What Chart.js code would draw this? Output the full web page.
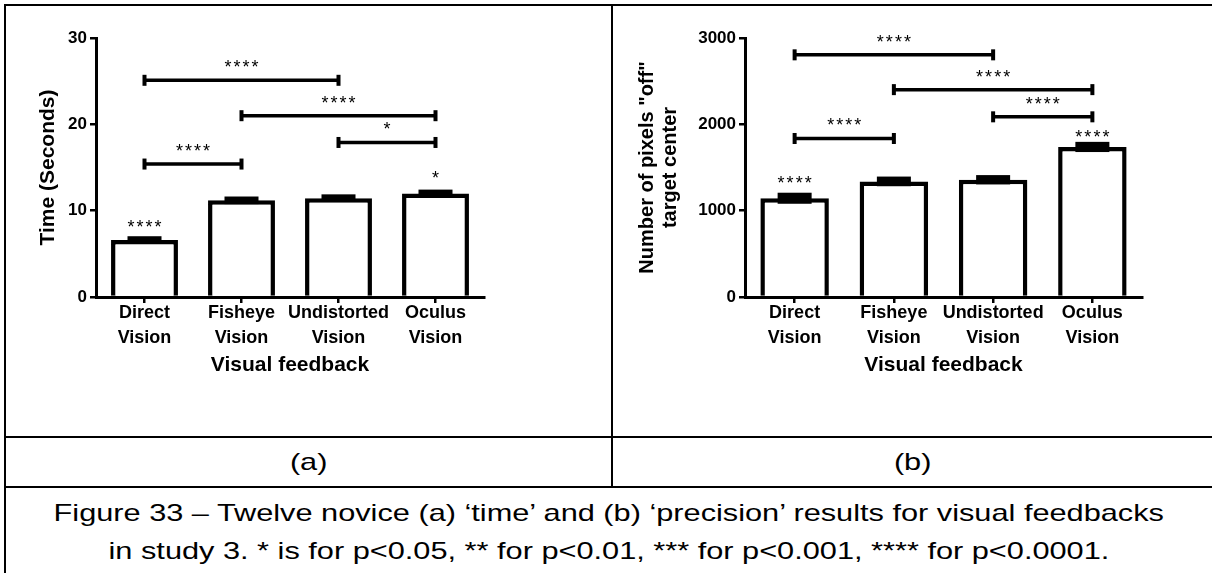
<!DOCTYPE html>
<html>
<head>
<meta charset="utf-8">
<script src="https://cdn.jsdelivr.net/npm/chart.js@4.4.1/dist/chart.umd.min.js"></script>
<style>
  html, body { margin: 0; padding: 0; background: #fff; }
  #page { position: relative; width: 1212px; height: 573px; overflow: hidden; font-family: "Liberation Sans", Arial, sans-serif; color: #000; }
  .rule { position: absolute; background: #000; }
  canvas { position: absolute; }
  .cellLabel { position: absolute; top: 438px; height: 48px; line-height: 48px; text-align: center; font-size: 24px; }
  .caption { position: absolute; left: 6px; width: 1206px; top: 494px; text-align: center; font-size: 24px; line-height: 38px; }
  .stretch { display: inline-block; transform: scaleX(1.28); transform-origin: center; white-space: nowrap; }
</style>
</head>
<body>
<div id="page">
  <div class="rule" style="left:4px;top:4px;width:1208px;height:2px"></div>
  <div class="rule" style="left:4px;top:4px;width:2px;height:569px"></div>
  <div class="rule" style="left:611px;top:4px;width:2px;height:484px"></div>
  <div class="rule" style="left:4px;top:436px;width:1208px;height:2px"></div>
  <div class="rule" style="left:4px;top:486px;width:1208px;height:2px"></div>

  <canvas id="time-chart" width="605" height="430" style="left:6px;top:6px"></canvas>
  <canvas id="pixel-chart" width="599" height="430" style="left:613px;top:6px"></canvas>

  <div class="cellLabel" style="left:6px;width:605px"><span class="stretch">(a)</span></div>
  <div class="cellLabel" style="left:613px;width:599px"><span class="stretch">(b)</span></div>

  <div class="caption">
    <div><span class="stretch">Figure 33 – Twelve novice (a) ‘time’ and (b) ‘precision’ results for visual feedbacks</span></div>
    <div><span class="stretch">in study 3. * is for p&lt;0.05, ** for p&lt;0.01, *** for p&lt;0.001, **** for p&lt;0.0001.</span></div>
  </div>
</div>
<script>
const categories = [['Direct', 'Vision'], ['Fisheye', 'Vision'], ['Undistorted', 'Vision'], ['Oculus', 'Vision']];

// (a) time
const timeMeans = [6.6, 11.2, 11.45, 12.0];
const timeErrors = [0.15, 0.15, 0.15, 0.15];
const timeBarStars = ['****', '', '', '*'];
const timeBarStarY = [7.55, null, null, 13.2];
const timeBracketFrom = [0, 1, 2, 0];
const timeBracketTo = [2, 3, 3, 1];
const timeBracketY = [25.1, 21.0, 17.9, 15.4];
const timeBracketStars = ['****', '****', '*', '****'];

// (b) precision
const pixelMeans = [1144, 1339, 1358, 1738];
const pixelErrors = [35, 27, 25, 30];
const pixelBarStars = ['****', '', '', '****'];
const pixelBarStarY = [1265, null, null, 1796];
const pixelBracketFrom = [0, 1, 2, 0];
const pixelBracketTo = [2, 3, 3, 1];
const pixelBracketY = [2805, 2402, 2087, 1836];
const pixelBracketStars = ['****', '****', '****', '****'];

const family = '"Liberation Sans", Arial, sans-serif';

// error bars, bar stars and comparison brackets
function sigPlugin(errors, barStars, barStarY, from, to, lineY, stars) {
    return {
        id: 'sigMarks',
        afterDatasetsDraw(chart) {
            const ctx = chart.ctx;
            const xs = chart.scales.x;
            const ys = chart.scales.y;
            const meta = chart.getDatasetMeta(0);
            const values = chart.data.datasets[0].data;
            ctx.save();
            ctx.fillStyle = '#000';
            ctx.strokeStyle = '#000';
            meta.data.forEach((bar, i) => {
                const top = ys.getPixelForValue(values[i] + errors[i]);
                const bot = ys.getPixelForValue(values[i] - errors[i]);
                ctx.fillRect(bar.x - 17, top - 2.5, 34, bot - top + 5);
            });
            ctx.font = '18px ' + family;
            ctx.letterSpacing = '2px';
            ctx.textAlign = 'center';
            ctx.textBaseline = 'alphabetic';
            barStars.forEach((s, i) => {
                if (s) ctx.fillText(s, meta.data[i].x + 1, ys.getPixelForValue(barStarY[i]) + 1);
            });
            ctx.lineWidth = 3.5;
            from.forEach((f, k) => {
                const x1 = xs.getPixelForValue(f);
                const x2 = xs.getPixelForValue(to[k]);
                const yp = ys.getPixelForValue(lineY[k]);
                ctx.beginPath();
                ctx.moveTo(x1, yp);
                ctx.lineTo(x2, yp);
                ctx.stroke();
                ctx.fillRect(x1 - 2, yp - 5.5, 4, 11);
                ctx.fillRect(x2 - 2, yp - 5.5, 4, 11);
                ctx.fillText(stars[k], (x1 + x2) / 2 + 1, yp - 7);
            });
            ctx.restore();
        }
    };
}

function drawChart(id, values, yMax, yStep, yTitle, titleSize, titleLineHeight, padding, yWidth, plugin) {
    return new Chart(document.getElementById(id), {
        type: 'bar',
        data: {
            labels: categories,
            datasets: [{
                data: values,
                backgroundColor: '#fff',
                borderColor: '#000',
                borderWidth: 4.5,
                barPercentage: 0.69,
                categoryPercentage: 1
            }]
        },
        options: {
            responsive: false,
            animation: false,
            layout: { padding: padding },
            plugins: { legend: { display: false }, tooltip: { enabled: false } },
            scales: {
                x: {
                    grid: { drawOnChartArea: false, offset: false, color: '#000', lineWidth: 2.5, tickLength: 6 },
                    border: { color: '#000', width: 3 },
                    ticks: { color: '#000', padding: -2, maxRotation: 0, autoSkip: false,
                             font: { family: family, size: 18, weight: 'bold', lineHeight: 1.38 } },
                    title: { display: true, text: 'Visual feedback', color: '#000', padding: 0,
                             font: { family: family, size: 21, weight: 'bold' } },
                    afterFit: s => { s.height = 81; }
                },
                y: {
                    min: 0,
                    max: yMax,
                    grid: { drawOnChartArea: false, color: '#000', lineWidth: 2.5, tickLength: 6 },
                    border: { color: '#000', width: 3 },
                    ticks: { color: '#000', stepSize: yStep, padding: 3, callback: v => String(v),
                             font: { family: family, size: 17, weight: 'bold' } },
                    title: { display: true, text: yTitle, color: '#000', padding: { top: 4, bottom: 4 },
                             font: { family: family, size: titleSize, weight: 'bold', lineHeight: titleLineHeight } },
                    afterFit: s => { s.width = yWidth; }
                }
            }
        },
        plugins: [plugin]
    });
}

drawChart('time-chart', timeMeans, 30, 10, 'Time (Seconds)', 21, 1.15,
    { left: 26, top: 32, right: 127, bottom: 58 }, 64,
    sigPlugin(timeErrors, timeBarStars, timeBarStarY, timeBracketFrom, timeBracketTo, timeBracketY, timeBracketStars));

drawChart('pixel-chart', pixelMeans, 3000, 1000, ['Number of pixels "off"', 'target center'], 20, 1.15,
    { left: 19, top: 32, right: 70, bottom: 58 }, 113,
    sigPlugin(pixelErrors, pixelBarStars, pixelBarStarY, pixelBracketFrom, pixelBracketTo, pixelBracketY, pixelBracketStars));
</script>
</body>
</html>
